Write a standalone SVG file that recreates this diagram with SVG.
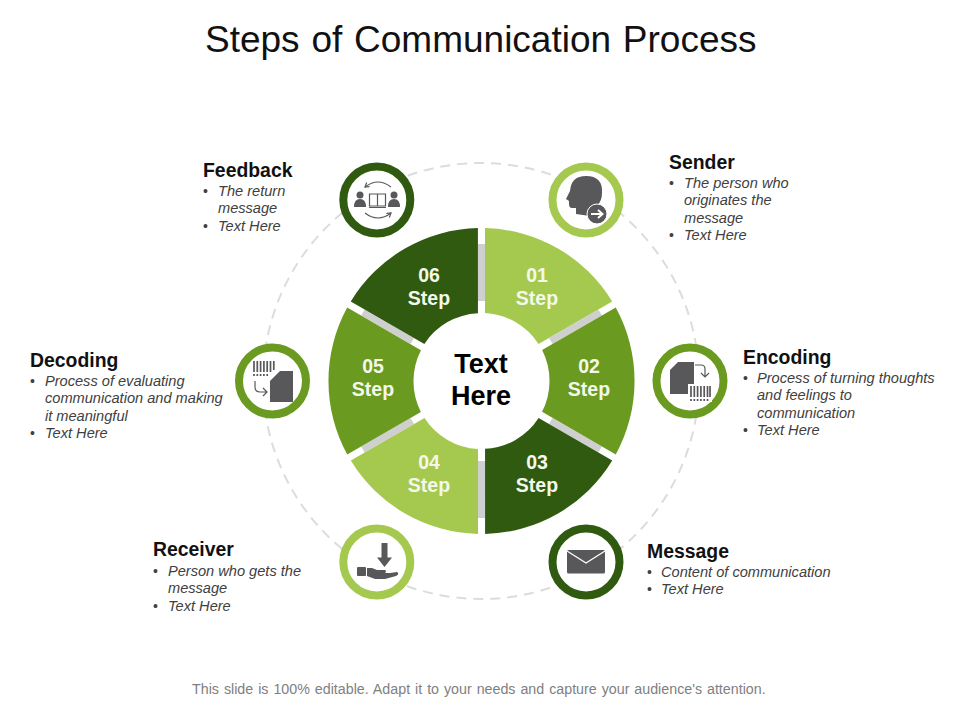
<svg xmlns="http://www.w3.org/2000/svg" width="960" height="720" viewBox="0 0 960 720">
<style>
text{font-family:"Liberation Sans",Arial,sans-serif}
.title{font-size:37px;fill:#111;word-spacing:1.500px}
.foot{font-size:14.250px;fill:#7f7f7f;word-spacing:1px}
.head{font-size:19.400px;font-weight:bold;fill:#111}
.b{font-size:14.600px;font-style:italic;fill:#404040}
.dot{font-size:14px;fill:#404040}
.step{font-size:19.500px;font-weight:bold;fill:#f4f8ea;text-anchor:middle}
.center{font-size:27px;font-weight:bold;fill:#000;text-anchor:middle}
.bar{fill:#cfcfcf}
.l{fill:#a5c94f}.m{fill:#6a9a1f}.d{fill:#2f5a10}
.rl{stroke:#a5c94f}.rm{stroke:#6a9a1f}.rd{stroke:#2f5a10}
.ring{fill:#fff;stroke-width:8}
.i{fill:#58585a}
.il{fill:none;stroke:#58585a;stroke-width:1.200}
.bc{fill:none;stroke:#58585a;stroke-width:1.700}
</style>
<defs>
<path id="seg" d="M3.500-68V-153A153 153 0 0 1 130.700-79.600L57-37A68 68 0 0 0 3.500-68Z"/>
<marker id="ah" viewBox="0 0 6 6" refX="5" refY="3" markerWidth="5" markerHeight="5" orient="auto-start-reverse"><path d="M1 .5 5 3 1 5.500" fill="none" stroke="#58585a" stroke-width="1.200"/></marker>
</defs>
<text class="title" x="205" y="52">Steps of Communication Process</text>
<g id="connectors"><circle cx="481" cy="381" r="218" fill="none" stroke="#dcdcdc" stroke-width="2" stroke-dasharray="10 7"/></g>
<g id="wheel-bars" transform="translate(481.500 381)">
<rect class="bar" x="-3.500" y="-137" width="7" height="57"/>
<rect class="bar" x="-3.500" y="-137" width="7" height="57" transform="rotate(60)"/>
<rect class="bar" x="-3.500" y="-137" width="7" height="57" transform="rotate(120)"/>
<rect class="bar" x="-3.500" y="-137" width="7" height="57" transform="rotate(180)"/>
<rect class="bar" x="-3.500" y="-137" width="7" height="57" transform="rotate(240)"/>
<rect class="bar" x="-3.500" y="-137" width="7" height="57" transform="rotate(300)"/>
</g>
<g id="step01"><use href="#seg" class="l" transform="translate(481.500 381)"/><text class="step" x="537" y="282">01</text><text class="step" x="537" y="305">Step</text></g>
<g id="step02"><use href="#seg" class="m" transform="translate(481.500 381) rotate(60)"/><text class="step" x="589" y="373">02</text><text class="step" x="589" y="396">Step</text></g>
<g id="step03"><use href="#seg" class="d" transform="translate(481.500 381) rotate(120)"/><text class="step" x="537" y="469">03</text><text class="step" x="537" y="492">Step</text></g>
<g id="step04"><use href="#seg" class="l" transform="translate(481.500 381) rotate(180)"/><text class="step" x="429" y="469">04</text><text class="step" x="429" y="492">Step</text></g>
<g id="step05"><use href="#seg" class="m" transform="translate(481.500 381) rotate(240)"/><text class="step" x="373" y="373">05</text><text class="step" x="373" y="396">Step</text></g>
<g id="step06"><use href="#seg" class="d" transform="translate(481.500 381) rotate(300)"/><text class="step" x="429" y="282">06</text><text class="step" x="429" y="305">Step</text></g>
<g id="center"><text class="center" x="481" y="373">Text</text><text class="center" x="481" y="405">Here</text></g>

<g id="sender">
<circle class="ring rl" cx="586" cy="200" r="33.500"/>
<path class="i" d="M576 214V208H572Q569 208 569 204V201L566 199 570 191Q571 176 586 176Q603 176 602 193Q602 201 597 206V214L590 216Z"/>
<circle class="i" cx="597" cy="214" r="10" stroke="#fff" stroke-width="1"/>
<path d="M591 214H602M598 210 602.500 214 598 218" fill="none" stroke="#fff" stroke-width="2"/>
<text class="head" x="669" y="169">Sender</text>
<text class="dot" x="669" y="188">•</text><text class="b" x="684" y="188">The person who</text><text class="b" x="684" y="205">originates the</text><text class="b" x="684" y="223">message</text>
<text class="dot" x="669" y="240">•</text><text class="b" x="684" y="240">Text Here</text>
</g>
<g id="encoding">
<circle class="ring rm" cx="690" cy="381" r="33.500"/>
<path class="i" d="M678 362H694V394H670V370Z"/>
<path class="il" d="M695 365H701Q705 365 705 369V377M701 373 705 377 709 373"/>
<path d="M688 384H712V402H688Z" fill="#fff"/>
<path class="bc" d="M691 386V397M694.300 386V397M697.600 386V397M700.900 386V397M704.200 386V397M707.500 386V397M710 386V397"/>
<path class="bc" d="M691 399V401M694.300 399V401M697.600 399V401M700.900 399V401M704.200 399V401M707.500 399V401"/>
<text class="head" x="743" y="364">Encoding</text>
<text class="dot" x="743" y="383">•</text><text class="b" x="757" y="383">Process of turning thoughts</text><text class="b" x="757" y="400">and feelings to</text><text class="b" x="757" y="418">communication</text>
<text class="dot" x="743" y="435">•</text><text class="b" x="757" y="435">Text Here</text>
</g>
<g id="message">
<circle class="ring rd" cx="586" cy="562" r="33.500"/>
<rect class="i" x="567" y="550" width="38" height="23.500" rx="1.500"/>
<path d="M567 551 586 563 605 551" fill="none" stroke="#fff" stroke-width="1.300"/>
<text class="head" x="647" y="558">Message</text>
<text class="dot" x="647" y="577">•</text><text class="b" x="661" y="577">Content of communication</text>
<text class="dot" x="647" y="594">•</text><text class="b" x="661" y="594">Text Here</text>
</g>
<g id="receiver">
<circle class="ring rl" cx="376.800" cy="562" r="33.500"/>
<path class="i" d="M381.500 543H387.500V557.500H392L384.500 567 377 557.500H381.500Z"/>
<rect class="i" x="357" y="567" width="9" height="9" rx="1"/>
<path class="i" d="M367 568H372L377 570H385Q387 571 385 573H390L397 572Q400 574 396 576L385 579H375L367 576Z"/>
<text class="head" x="153" y="556">Receiver</text>
<text class="dot" x="153" y="576">•</text><text class="b" x="168" y="576">Person who gets the</text><text class="b" x="168" y="593">message</text>
<text class="dot" x="153" y="611">•</text><text class="b" x="168" y="611">Text Here</text>
</g>
<g id="decoding">
<circle class="ring rm" cx="272.500" cy="381" r="33.500"/>
<path class="i" d="M280 371H293V402H270V381Z"/>
<path class="bc" d="M254 361V372M257.300 361V372M260.600 361V372M263.900 361V372M267.200 361V372M270.500 361V372M273.800 361V370"/>
<path class="bc" d="M254 374V376M257.300 374V376M260.600 374V376M263.900 374V376M267.200 374V376"/>
<path class="il" d="M255 381V387Q255 392 260 392H267M263 388 267 392 263 396"/>
<text class="head" x="30" y="367">Decoding</text>
<text class="dot" x="30" y="386">•</text><text class="b" x="45" y="386">Process of evaluating</text><text class="b" x="45" y="403">communication and making</text><text class="b" x="45" y="421">it meaningful</text>
<text class="dot" x="30" y="438">•</text><text class="b" x="45" y="438">Text Here</text>
</g>
<g id="feedback">
<circle class="ring rd" cx="376.800" cy="200" r="33.500"/>
<circle class="i" cx="360" cy="195" r="3.500"/><path class="i" d="M354 207Q354 199 360 199Q366 199 366 207Z"/>
<circle class="i" cx="394" cy="195" r="3.500"/><path class="i" d="M388 207Q388 199 394 199Q400 199 400 207Z"/>
<path class="il" d="M369.500 194H377.500V206H369.500ZM377.500 194H385.500V206H377.500ZM369 207.500H386"/>
<path class="il" d="M391 187Q378 177 365 187" marker-end="url(#ah)"/>
<path class="il" d="M365 213Q378 223 391 213" marker-end="url(#ah)"/>
<text class="head" x="203" y="177">Feedback</text>
<text class="dot" x="203" y="196">•</text><text class="b" x="218" y="196">The return</text><text class="b" x="218" y="213">message</text>
<text class="dot" x="203" y="231">•</text><text class="b" x="218" y="231">Text Here</text>
</g>
<text class="foot" x="192" y="694">This slide is 100% editable. Adapt it to your needs and capture your audience's attention.</text>
</svg>
